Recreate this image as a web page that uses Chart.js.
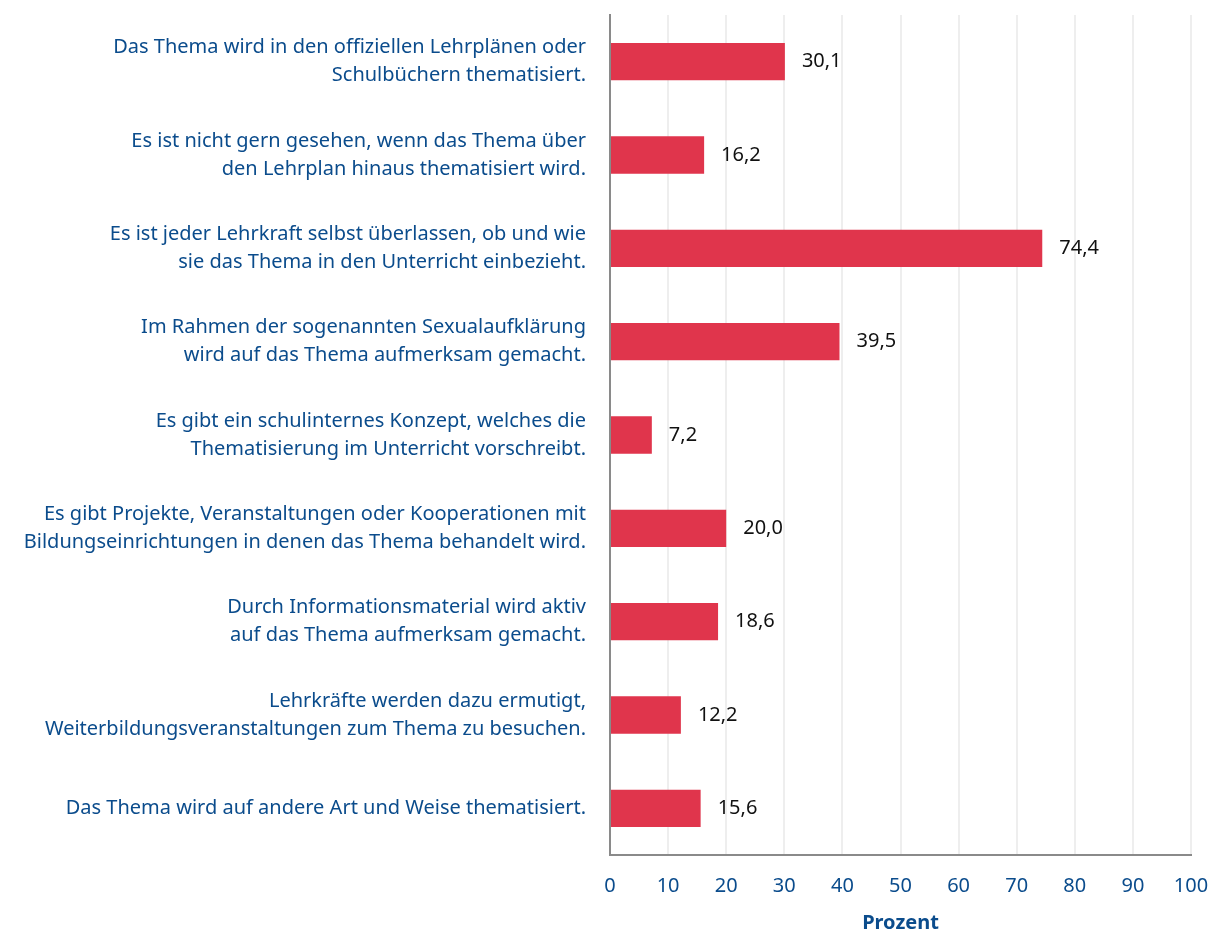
<!DOCTYPE html>
<html>
<head>
<meta charset="utf-8">
<script src="https://cdn.jsdelivr.net/npm/chart.js@4"></script>
<style>
  html, body { margin: 0; padding: 0; background: #fff; }
  #wrap { width: 1211px; height: 931px; position: relative; }
</style>
</head>
<body>
<div id="wrap"><canvas id="chart"></canvas></div>
<script>
// Kategorien (zweizeilig wie im Original)
const categories = [
  ['Das Thema wird in den offiziellen Lehrplänen oder', 'Schulbüchern thematisiert.'],
  ['Es ist nicht gern gesehen, wenn das Thema über', 'den Lehrplan hinaus thematisiert wird.'],
  ['Es ist jeder Lehrkraft selbst überlassen, ob und wie', 'sie das Thema in den Unterricht einbezieht.'],
  ['Im Rahmen der sogenannten Sexualaufklärung', 'wird auf das Thema aufmerksam gemacht.'],
  ['Es gibt ein schulinternes Konzept, welches die', 'Thematisierung im Unterricht vorschreibt.'],
  ['Es gibt Projekte, Veranstaltungen oder Kooperationen mit', 'Bildungseinrichtungen in denen das Thema behandelt wird.'],
  ['Durch Informationsmaterial wird aktiv', 'auf das Thema aufmerksam gemacht.'],
  ['Lehrkräfte werden dazu ermutigt,', 'Weiterbildungsveranstaltungen zum Thema zu besuchen.'],
  'Das Thema wird auf andere Art und Weise thematisiert.'
];
const values = [30.1, 16.2, 74.4, 39.5, 7.2, 20.0, 18.6, 12.2, 15.6];
const xTicks = [0, 10, 20, 30, 40, 50, 60, 70, 80, 90, 100];

const BLUE = '#0b4c8c';
const RED = '#e0354c';
const FONT = "'Noto Sans', sans-serif";

// Werte rechts neben die Balken schreiben
const valueLabels = {
  id: 'valueLabels',
  afterDatasetsDraw(chart) {
    const ctx = chart.ctx;
    const meta = chart.getDatasetMeta(0);
    ctx.save();
    ctx.font = '20px ' + FONT;
    ctx.fillStyle = '#111';
    ctx.textBaseline = 'middle';
    ctx.textAlign = 'left';
    meta.data.forEach((bar, i) => {
      ctx.fillText(values[i].toFixed(1).replace('.', ','), bar.x + 17, bar.y);
    });
    ctx.restore();
  }
};

new Chart(document.getElementById('chart'), {
  type: 'bar',
  data: {
    labels: categories,
    datasets: [{
      data: values,
      backgroundColor: RED,
      barPercentage: 0.4,
      categoryPercentage: 1
    }]
  },
  options: {
    indexAxis: 'y',
    responsive: true,
    maintainAspectRatio: false,
    animation: false,
    layout: { padding: { top: 15, right: 20, left: 0, bottom: 0 } },
    plugins: {
      legend: { display: false },
      tooltip: { enabled: false }
    },
    scales: {
      x: {
        min: 0,
        max: 100,
        afterBuildTicks(scale) {
          scale.ticks = xTicks.map(v => ({ value: v }));
        },
        afterFit(scale) {
          scale.height = 76;
          scale.paddingLeft = 0;
          scale.paddingRight = 0;
        },
        grid: { color: '#eeeeee', lineWidth: 2, drawTicks: false },
        border: { color: '#8a8a8a', width: 2 },
        ticks: {
          color: BLUE,
          padding: 19,
          font: { family: FONT, size: 20 }
        },
        title: {
          display: true,
          text: 'Prozent',
          color: BLUE,
          padding: { top: 16, bottom: -4 },
          font: { family: FONT, size: 20, weight: 'bold' }
        }
      },
      y: {
        afterFit(scale) {
          scale.width = 610;
          scale.paddingTop = 0;
          scale.paddingBottom = 0;
        },
        grid: { display: false, drawTicks: false },
        border: { color: '#8a8a8a', width: 2 },
        ticks: {
          color: BLUE,
          padding: 24,
          font: { family: FONT, size: 20, lineHeight: 1.4 }
        }
      }
    }
  },
  plugins: [valueLabels]
});
</script>
</body>
</html>
